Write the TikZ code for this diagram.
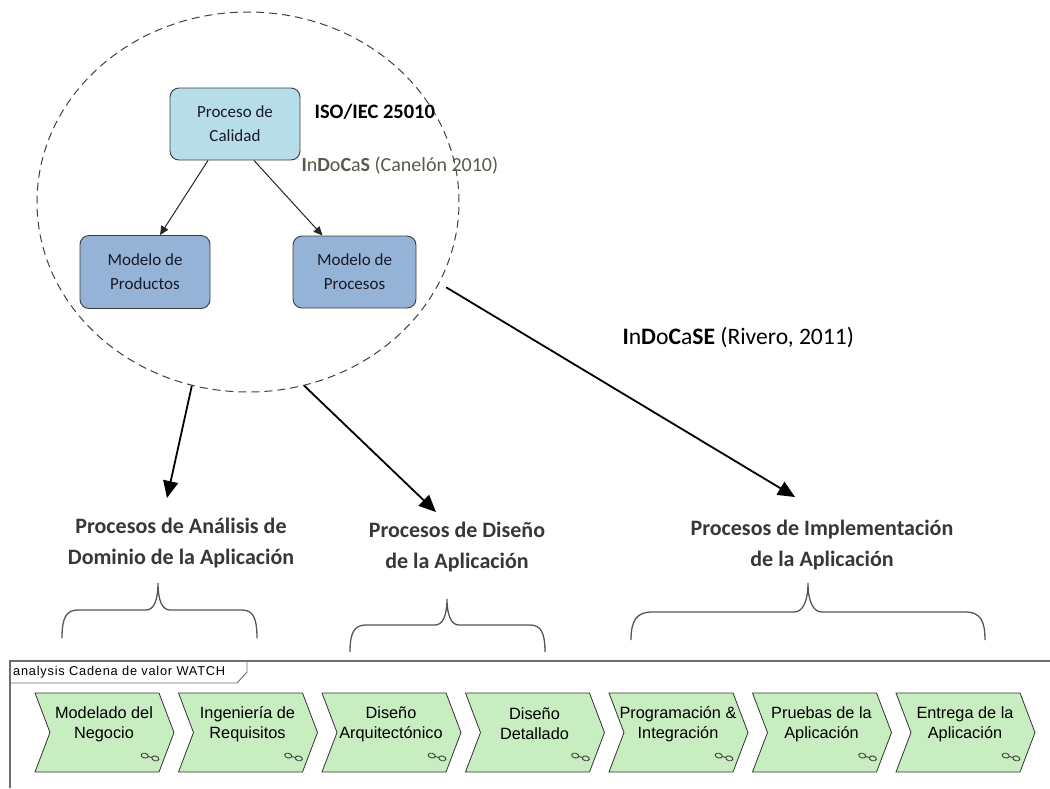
\documentclass[tikz,border=0pt]{standalone}
\usepackage{fontspec}
\setmainfont{Carlito}
\newfontfamily\arialfont{Liberation Sans}
\newfontfamily\tabfont[LetterSpace=6]{Liberation Sans}
\usetikzlibrary{arrows.meta,shapes.geometric}

\definecolor{calidad}{RGB}{183,221,232}
\definecolor{modelo}{RGB}{149,179,215}
\definecolor{boxline}{RGB}{60,60,60}
\definecolor{boxtext}{RGB}{25,25,40}
\definecolor{headcol}{RGB}{55,55,55}
\definecolor{chevfill}{RGB}{200,237,193}
\definecolor{indocas}{RGB}{85,92,72}
\definecolor{bracecol}{RGB}{85,85,85}
\definecolor{framecol}{RGB}{110,110,110}

\begin{document}
\begin{tikzpicture}[x=1pt,y=-1pt,
  qbox/.style={draw=boxline, line width=0.9pt, rounded corners=9pt,
    align=center, text=boxtext, inner sep=0pt,
    font=\fontsize{17}{24}\selectfont},
  smallarrow/.style={draw=black!85, line width=1pt,
    -{Triangle[length=9pt,width=8pt]}},
  bigarrow/.style={draw=black, line width=1.8pt,
    -{Triangle[length=17pt,width=15pt]}},
  heading/.style={align=center, text=headcol,
    font=\fontsize{22}{31}\selectfont\bfseries},
  bracket/.style={draw=bracecol, line width=1.3pt},
  chev/.style={draw=black!80, line width=0.8pt, fill=chevfill},
  chevtext/.style={align=center, text=black,
    font=\arialfont\fontsize{16.3}{20}\selectfont},
  linkicon/.style={draw=black!75, line width=0.9pt},
]
\useasboundingbox (0,0) rectangle (1050,788);

% quality scope
\node[ellipse, draw=black!75, line width=1pt, dash pattern=on 8pt off 5pt,
  minimum width=422pt, minimum height=380pt, inner sep=0pt] (circ) at (248,202) {};

\node[qbox, fill=calidad, minimum width=130pt, minimum height=72pt] (cal) at (235,124) {Proceso de\\Calidad};
\node[qbox, fill=modelo, minimum width=130pt, minimum height=73pt] (prod) at (145,272) {Modelo de\\Productos};
\node[qbox, fill=modelo, minimum width=123pt, minimum height=72pt] (proc) at (354.5,272) {Modelo de\\Procesos};

\draw[smallarrow] ([xshift=-27pt]cal.south) -- ([xshift=15pt]prod.north);
\draw[smallarrow] ([xshift=19pt]cal.south) -- ([xshift=-32pt]proc.north);

\node[anchor=west, font=\fontsize{20.5}{24}\selectfont\bfseries] (iso) at (311,112) {ISO/IEC 25010};
\node[anchor=west, text=indocas, font=\fontsize{20}{24}\selectfont] (indocas) at (298,166)
  {\textbf{I}n\textbf{D}o\textbf{C}a\textbf{S} (Canelón 2010)};
\node[anchor=west, font=\fontsize{23.6}{28}\selectfont] (indocase) at (619,337)
  {\textbf{I}n\textbf{D}o\textbf{C}a\textbf{SE} (Rivero, 2011)};

% process groups
\node[heading] (h1) at (181,543) {Procesos de Análisis de\\Dominio de la Aplicación};
\node[heading] (h2) at (457,547) {Procesos de Diseño\\de la Aplicación};
\node[heading] (h3) at (822,545) {Procesos de Implementación\\de la Aplicación};

\coordinate (t1) at (167,498);
\coordinate (t2) at (436,512);
\coordinate (t3) at (795,497);
\draw[bigarrow] (circ.253.5) -- (t1);
\draw[bigarrow] (circ.287.9) -- (t2);
\draw[bigarrow, shorten <=8pt] (circ.337) -- (t3);

% braces
\draw[bracket] (62,638) .. controls (62,618) and (66,610) .. (78,610) -- (146,610)
  .. controls (154,610) and (158,600) .. (158,583)
  .. controls (158,600) and (162,610) .. (170,610) -- (242,610)
  .. controls (253,610) and (257,618) .. (257,638);
\draw[bracket] (350,652) .. controls (350,633) and (354,625) .. (366,625) -- (435,625)
  .. controls (443,625) and (447,615) .. (447,599)
  .. controls (447,615) and (451,625) .. (459,625) -- (530,625)
  .. controls (541,625) and (545,633) .. (545,652);
\draw[bracket] (631,640) .. controls (631,620) and (637,612) .. (652,612) -- (794,612)
  .. controls (803,612) and (808,601) .. (808,583)
  .. controls (808,601) and (813,612) .. (822,612) -- (965,612)
  .. controls (980,612) and (985,620) .. (985,640);

% value chain frame
\draw[framecol, line width=1.2pt] (10,788) -- (10,661) -- (1050,661);
\draw[framecol, line width=0.9pt] (10,683) -- (237,683) -- (247,672) -- (247,661);
\node[anchor=west, inner sep=0pt, font=\tabfont\fontsize{12.8}{14}\selectfont] (tab) at (13,672.5)
  {analysis Cadena de valor WATCH};

\foreach \i/\txt in {0/{Modelado del\\Negocio},1/{Ingeniería de\\Requisitos},
    2/{Diseño\\Arquitectónico},3/{Diseño\\Detallado},4/{Programación \&\\Integración},
    5/{Pruebas de la\\Aplicación},6/{Entrega de la\\Aplicación}}{
  \pgfmathsetmacro\xa{35+143.5*\i}
  \draw[chev] (\xa,693) -- ++(124,0) -- ++(15,39.5) -- ++(-15,39.5) -- ++(-124,0)
    -- ++(15,-39.5) -- cycle;
  \node[chevtext] (ch\i) at ({\xa+69},724) {\txt};
  % chain-link marker
  \draw[linkicon, rotate around={-15:({\xa+115},757)}]
    ({\xa+109.5},757) ellipse[x radius=3.6, y radius=2.4]
    ({\xa+120.5},757) ellipse[x radius=3.6, y radius=2.4]
    ({\xa+113.1},757) -- ({\xa+116.9},757);
}
\end{tikzpicture}
\end{document}
